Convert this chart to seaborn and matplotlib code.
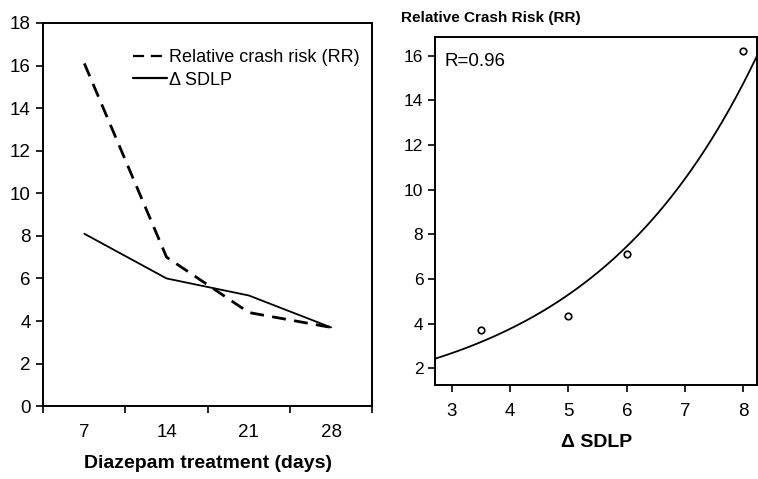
import numpy as np
import pandas as pd
import matplotlib
matplotlib.use("Agg")
import matplotlib.pyplot as plt
from matplotlib.ticker import FixedLocator, NullFormatter, FixedFormatter
import seaborn as sns

sns.set_theme(style="white")
plt.rcParams['font.family'] = ['Liberation Sans', 'DejaVu Sans']
plt.rcParams['text.color'] = 'black'
plt.rcParams['xtick.color'] = 'black'
plt.rcParams['ytick.color'] = 'black'
plt.rcParams['axes.labelcolor'] = 'black'

# Left panel data
days = ["7", "14", "21", "28"]
rr_by_day = [16.1, 7.0, 4.4, 3.7]
sdlp_by_day = [8.1, 6.0, 5.2, 3.7]

# Right panel data
sdlp_points = [3.5, 5.0, 6.0, 8.0]
rr_points = [3.7, 4.35, 7.1, 16.2]
r_text = "R=0.96"

fig = plt.figure(figsize=(7.58, 4.79), dpi=100)
ax1 = fig.add_axes([0.057, 0.152, 0.434, 0.800])
ax2 = fig.add_axes([0.574, 0.196, 0.425, 0.727])

pos = np.arange(len(days))
df = pd.DataFrame({"pos": pos, "rr": rr_by_day, "sdlp": sdlp_by_day})
sns.lineplot(data=df, x="pos", y="rr", ax=ax1, color="black", lw=2.0,
             label="Relative crash risk (RR)")
ax1.lines[-1].set_dashes([5, 3])
sns.lineplot(data=df, x="pos", y="sdlp", ax=ax1, color="black", lw=1.3,
             label="\u0394 SDLP")
ax1.set_xlim(-0.5, len(days) - 0.5)
ax1.set_ylim(0, 18)
ax1.set_yticks(np.arange(0, 19, 2))
ax1.xaxis.set_major_locator(FixedLocator(np.arange(-0.5, len(days), 1.0)))
ax1.xaxis.set_major_formatter(NullFormatter())
ax1.xaxis.set_minor_locator(FixedLocator(pos))
ax1.xaxis.set_minor_formatter(FixedFormatter(days))
ax1.tick_params(axis="x", which="minor", length=0, labelsize=13.5, pad=13)
ax1.tick_params(axis="x", which="major", direction="out", length=5, width=1.2,
                bottom=True, color="black")
ax1.tick_params(axis="y", direction="out", length=5, width=1.2, left=True,
                labelsize=13.5, color="black", pad=4)
ax1.set_xlabel("Diazepam treatment (days)", fontsize=14, fontweight="bold", labelpad=10)
ax1.set_ylabel("")
for s in ax1.spines.values():
    s.set_color("black")
    s.set_linewidth(1.4)
leg = ax1.legend(loc="upper left", bbox_to_anchor=(0.25, 0.95), frameon=False,
                 fontsize=13, handlelength=1.9, handletextpad=0.1,
                 labelspacing=0.3, borderaxespad=0)
for h in leg.get_lines():
    h.set_linewidth(1.6)

# Right panel
df2 = pd.DataFrame({"x": sdlp_points, "y": rr_points})
b, lna = np.polyfit(np.array(sdlp_points), np.log(np.array(rr_points)), 1)
xfit = np.linspace(2.71, 8.24, 200)
fit = pd.DataFrame({"x": xfit, "y": np.exp(lna) * np.exp(b * xfit)})
sns.lineplot(data=fit, x="x", y="y", ax=ax2, color="black", lw=1.3)
sns.scatterplot(data=df2, x="x", y="y", ax=ax2, s=22, facecolor="white",
                edgecolor="black", linewidth=1.2, zorder=5)
ax2.set_xlim(2.71, 8.24)
ax2.set_ylim(1.24, 16.85)
ax2.set_xticks(np.arange(3, 9, 1))
ax2.set_yticks(np.arange(2, 17, 2))
ax2.tick_params(axis="x", direction="out", length=5, width=1.2, bottom=True,
                labelsize=13.5, pad=8, color="black")
ax2.tick_params(axis="y", direction="out", length=5, width=1.2, left=True,
                labelsize=12.5, color="black")
ax2.set_xlabel("\u0394 SDLP", fontsize=14, fontweight="bold", labelpad=10)
ax2.set_ylabel("")
ax2.text(-0.105, 1.035, "Relative Crash Risk (RR)", transform=ax2.transAxes,
         fontsize=11, fontweight="bold", ha="left", va="bottom")
ax2.text(0.03, 0.955, r_text, transform=ax2.transAxes, fontsize=13.5,
         ha="left", va="top")
for s in ax2.spines.values():
    s.set_color("black")
    s.set_linewidth(1.4)

fig.savefig("out.png", dpi=100, facecolor="white")
